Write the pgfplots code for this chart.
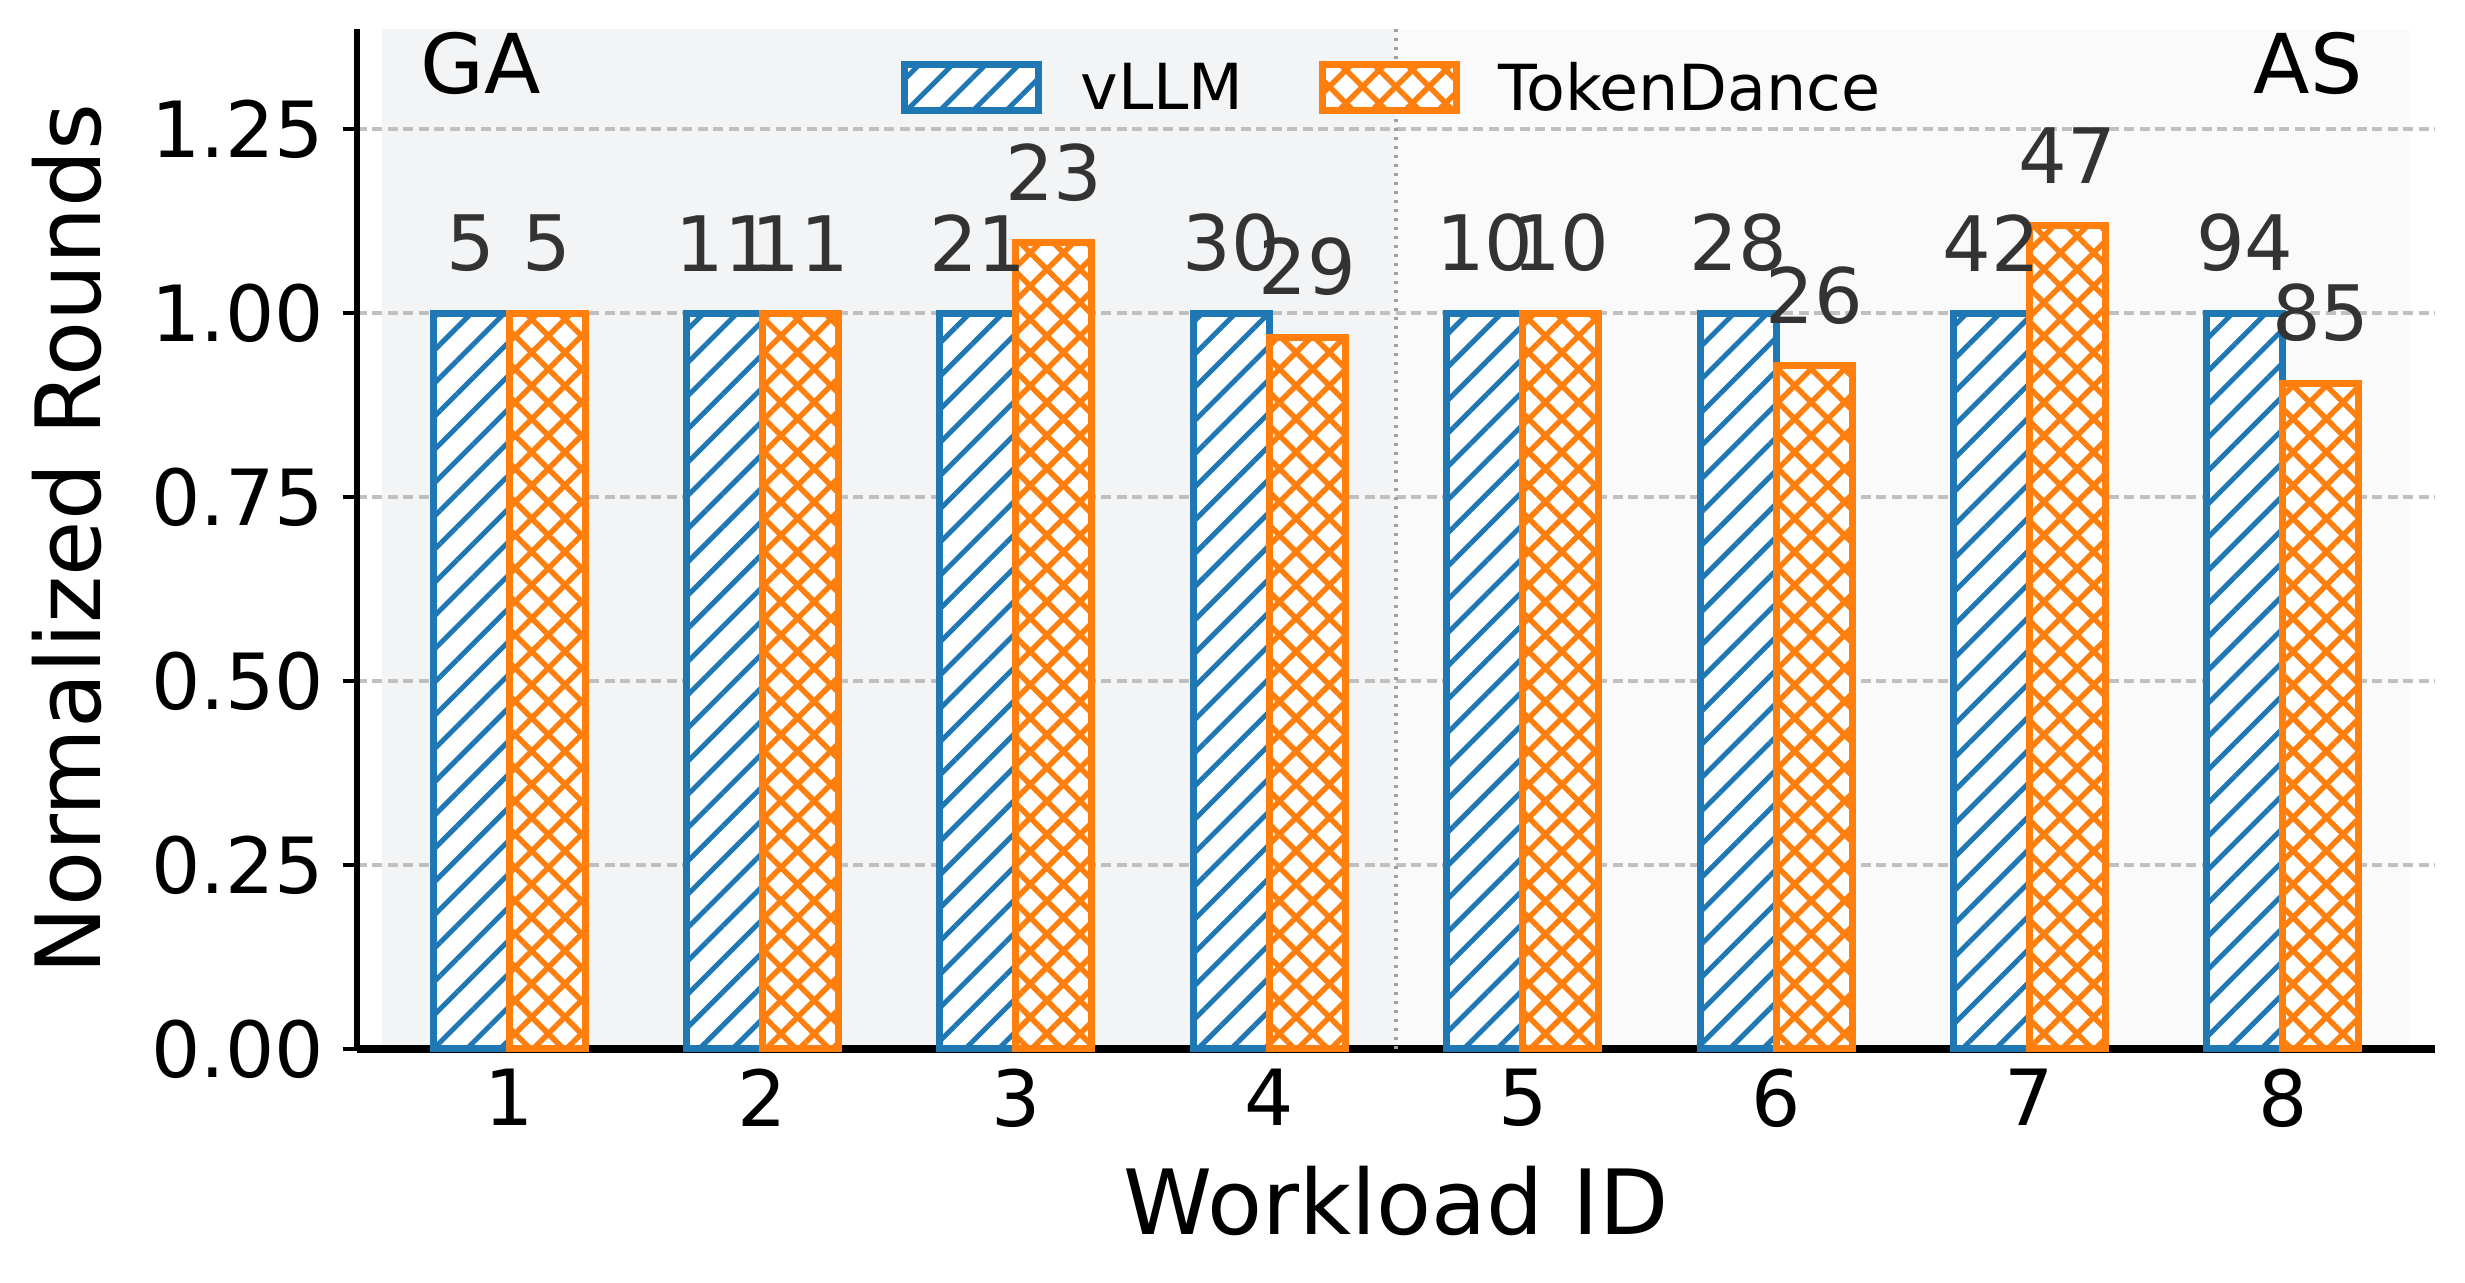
\documentclass[border=0pt]{standalone}
\usepackage{fontspec}
\setmainfont{DejaVu Sans}
\usepackage{pgfplots}
\pgfplotsset{compat=1.18}
\usepackage{pgfplotstable}
\usetikzlibrary{patterns.meta}

\definecolor{cblue}{HTML}{1F77B4}
\definecolor{corange}{HTML}{FF7F0E}
\definecolor{gabg}{HTML}{F3F4F6}
\definecolor{asbg}{HTML}{FAFAFA}
\definecolor{gridc}{HTML}{C0C0C0}
\definecolor{sepc}{HTML}{A0A0A0}
\definecolor{labc}{HTML}{333333}

% normalized rounds (vLLM = 1) and raw round counts
\pgfplotstableread{
x  v    t       rv  rt
1  1.0  1.0     5   5
2  1.0  1.0     11  11
3  1.0  1.0952  21  23
4  1.0  0.9667  30  29
5  1.0  1.0     10  10
6  1.0  0.9286  28  26
7  1.0  1.1190  42  47
8  1.0  0.9043  94  85
}\rounds

\pgfplotsset{
  patchlegend/.style={legend image code/.code={
      \draw[##1] (0pt,-4.1pt) rectangle (26.8pt,5.1pt);
      \path (34.5pt,0pt);}},
  barlabel/.style={nodes near coords, point meta=explicit symbolic,
      every node near coord/.append style={font=\fontsize{15.3}{18}\selectfont,
        text=labc, anchor=south, inner sep=0pt, yshift=7.6pt, xshift=#1}},
}

\begin{document}
\begin{tikzpicture}
\begin{axis}[
    set layers,
    scale only axis,
    width=415.6pt, height=204pt,
    xmin=0.4, xmax=8.6,
    ymin=0, ymax=1.386,
    axis x line*=bottom,
    axis y line*=left,
    x axis line style={line width=1.5pt},
    y axis line style={line width=1.2pt},
    xtick={1,2,3,4,5,6,7,8},
    ytick={0,0.25,0.5,0.75,1,1.25},
    yticklabels={0.00,0.25,0.50,0.75,1.00,1.25},
    xtick style={draw=none},
    ytick style={black, line width=0.8pt},
    tick align=outside,
    major tick length=2.8pt,
    /pgf/number format/assume math mode=true,
    tick label style={font=\fontsize{15.5}{18}\selectfont},
    yticklabel style={inner sep=0pt, xshift=-3.6pt},
    xticklabel style={inner sep=0pt, yshift=-1.0pt},
    ymajorgrids=true,
    grid style={gridc, line width=0.65pt, dash pattern=on 2pt off 1.1pt},
    every axis x label/.style={at={(axis description cs:0.5,-0.1814)}, anchor=base,
        font=\fontsize{18}{22}\selectfont},
    every axis y label/.style={at={(axis description cs:-0.1234,0.5)}, rotate=90,
        anchor=base, font=\fontsize{18}{22}\selectfont},
    xlabel={Workload ID},
    ylabel={Normalized Rounds},
    legend columns=2,
    legend style={at={(0.2618,0.941)}, anchor=west, draw=none, fill=none,
        inner sep=0pt, outer sep=0pt, nodes={inner sep=0pt},
        font=\fontsize{12.7}{15}\selectfont,
        /tikz/every even column/.append style={column sep=15pt}},
    legend cell align=left,
    clip=false,
]
\begin{pgfonlayer}{axis background}
\fill[gabg] (axis cs:0.5,0) rectangle (axis cs:4.5,1.386);
\fill[asbg] (axis cs:4.5,0) rectangle (axis cs:8.5,1.386);
\end{pgfonlayer}
\draw[sepc, line width=0.7pt, dash pattern=on 0.6pt off 1.2pt]
    (axis cs:4.5,0) -- (axis cs:4.5,1.386);

\addplot[ybar, bar width=0.3, bar shift=-0.15, draw=cblue, fill=white,
    line width=1.4pt,
    postaction={pattern={Lines[angle=45,distance=4.7pt,line width=1.0pt]},
        pattern color=cblue},
    patchlegend, barlabel=-7.6pt]
    table[x=x, y=v, meta=rv] {\rounds};
\addlegendentry{vLLM}

\addplot[ybar, bar width=0.3, bar shift=0.15, draw=corange, fill=white,
    line width=1.4pt,
    postaction={pattern={Hatch[angle=45,distance=4.7pt,line width=1.1pt]},
        pattern color=corange},
    patchlegend, barlabel=7.6pt]
    table[x=x, y=t, meta=rt] {\rounds};
\addlegendentry{TokenDance}

\node[anchor=base west, inner sep=0pt, font=\fontsize{16.5}{20}\selectfont]
    at (axis description cs:0.030,0.937) {GA};
\node[anchor=base east, inner sep=0pt, font=\fontsize{16.5}{20}\selectfont]
    at (axis description cs:0.9656,0.937) {AS};
\end{axis}
\pgfresetboundingbox
\path (-71.4pt,-46.8pt) rectangle (421.6pt,209.8pt);
\end{tikzpicture}
\end{document}
